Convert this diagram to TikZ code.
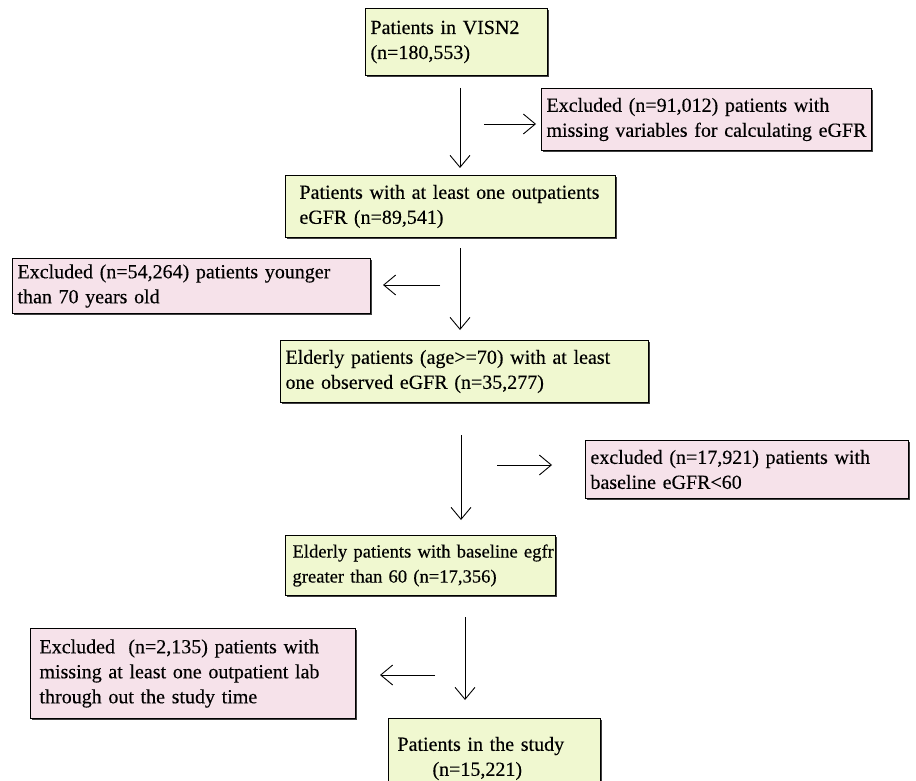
\documentclass[tikz,border=0pt]{standalone}
\usepackage{fontspec}
\setmainfont[FakeBold=0.3]{Liberation Serif}
\usetikzlibrary{arrows.meta,shadows}
\definecolor{incg}{RGB}{240,248,208}
\definecolor{excp}{RGB}{246,226,234}
\newcommand{\fs}{\fontsize{20}{25}\selectfont}
\newcommand{\fsd}{\fontsize{18.6}{25}\selectfont}
\tikzset{
  base/.style={draw=black, line width=1pt, anchor=north west, align=left,
    inner xsep=5pt, inner ysep=3pt, font=\fs,
    drop shadow={shadow xshift=1.4pt, shadow yshift=-1.4pt, fill=black!75, opacity=1}},
  inc/.style={base, fill=incg},
  exc/.style={base, fill=excp},
  arr/.style={-{Straight Barb[length=12pt,width=20pt,line width=0.9pt]}, line width=0.9pt}
}
\begin{document}
\begin{tikzpicture}[x=1pt,y=-1pt]
\useasboundingbox (0,0) rectangle (916,781);
\fill[white] (0,0) rectangle (916,781);

\node[inc, text width=172pt, minimum height=67pt] (A) at (365,8)
  {Patients in VISN2\\(n=180,553)};
\node[exc, text width=320pt, minimum height=62pt] (X1) at (541,88)
  {Excluded (n=91,012) patients with\\missing variables for calculating eGFR};
\node[inc, text width=320pt, minimum height=62pt] (B) at (285,175)
  {\hspace*{9pt}Patients with at least one outpatients\\\hspace*{9pt}eGFR (n=89,541)};
\node[exc, text width=348pt, minimum height=55pt] (X2) at (12,258)
  {Excluded (n=54,264) patients younger\\than 70 years old};
\node[inc, text width=358pt, minimum height=62pt] (C) at (280,340)
  {Elderly patients (age>=70) with at least\\one observed eGFR (n=35,277)};
\node[exc, text width=313pt, minimum height=58pt] (X3) at (585,440)
  {excluded (n=17,921) patients with\\baseline eGFR<60};
\node[inc, inner xsep=2pt, text width=266pt, minimum height=60pt, font=\fsd] (D) at (285,535)
  {\mbox{\hspace*{5pt}Elderly patients with baseline egfr}\\\mbox{\hspace*{5pt}greater than 60 (n=17,356)}};
\node[exc, text width=315pt, minimum height=90pt] (X4) at (30,628)
  {\hspace*{4pt}Excluded\ \ (n=2,135) patients with\\\hspace*{4pt}missing at least one outpatient lab\\\hspace*{4pt}through out the study time};
\node[inc, text width=202pt, minimum height=80pt] (E) at (388,718)
  {\hspace*{4pt}Patients in the study\\\hspace*{39pt}(n=15,221)\\ };

\coordinate (a1s) at (460,88);  \coordinate (a1e) at (460,168);
\coordinate (h1s) at (484,124); \coordinate (h1e) at (536,124);
\coordinate (a2s) at (460,248); \coordinate (a2e) at (460,330);
\coordinate (h2s) at (440,285); \coordinate (h2e) at (383,285);
\coordinate (a3s) at (461,435); \coordinate (a3e) at (461,520);
\coordinate (h3s) at (497,465); \coordinate (h3e) at (552,465);
\coordinate (a4s) at (465,617); \coordinate (a4e) at (465,700);
\coordinate (h4s) at (435,675); \coordinate (h4e) at (380,675);

\draw[arr] (a1s) -- (a1e);
\draw[arr] (h1s) -- (h1e);
\draw[arr] (a2s) -- (a2e);
\draw[arr] (h2s) -- (h2e);
\draw[arr] (a3s) -- (a3e);
\draw[arr] (h3s) -- (h3e);
\draw[arr] (a4s) -- (a4e);
\draw[arr] (h4s) -- (h4e);
\end{tikzpicture}
\end{document}
